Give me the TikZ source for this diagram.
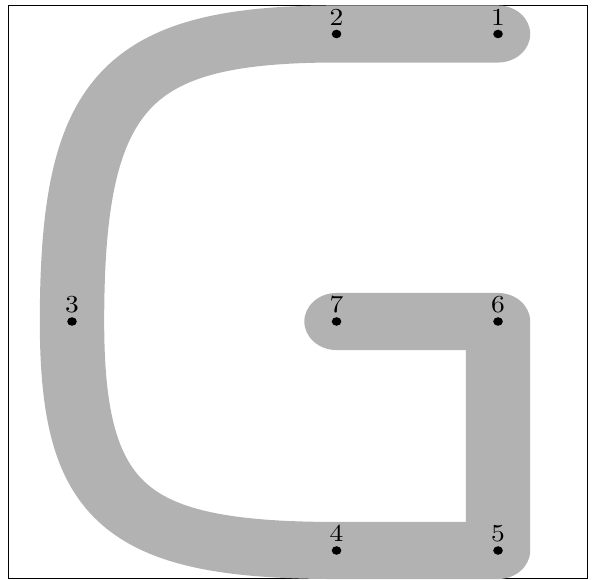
\documentclass[tikz,border=0pt]{standalone}
\usepackage{tikz}

\begin{document}
\begin{tikzpicture}[x=0.41pt, y=-0.41pt,
  gstroke/.style={line width=23.4pt, draw=black!30, line cap=round, line join=round},
  dotlab/.style={above, inner sep=3.333pt},
]
  \useasboundingbox (0,0) rectangle (595,580);
  \draw (8,5) rectangle (587,578);

  \begin{scope}[transform canvas={xscale=1.128}, x=0.3635pt]
    \coordinate (p1) at (498,34);
    \coordinate (p2) at (336.5,34);
    \coordinate (p3) at (72,321.5);
    \coordinate (p4) at (336.5,550.5);
    \coordinate (p5) at (498,550.5);
    \coordinate (p6) at (498,321.5);
    \coordinate (p7) at (336.5,321.5);

    \draw[gstroke] (p1) -- (p2) .. controls +(-212,0) and +(0,-230) .. (p3)
      .. controls +(0,183) and +(-212,0) .. (p4) -- (p5) -- (p6) -- (p7);

    \foreach \i in {1,...,7}
      \fill (p\i) circle[radius=1.75pt] node[dotlab] (l\i) {\i};
  \end{scope}
\end{tikzpicture}
\end{document}
